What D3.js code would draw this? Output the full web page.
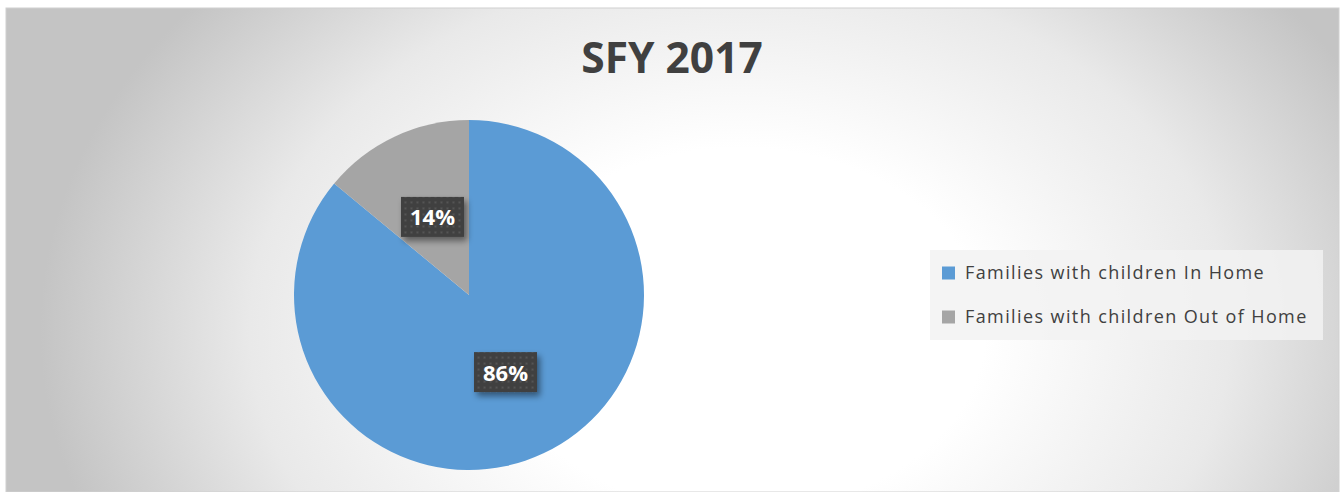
<!DOCTYPE html>
<html>
<head>
<meta charset="utf-8">
<script src="https://cdn.jsdelivr.net/npm/d3@7"></script>
<style>
  html, body { margin: 0; padding: 0; background: #fff; }
  svg { display: block; }
  text { font-family: "Open Sans", "Noto Sans", sans-serif; }
</style>
</head>
<body>
<svg id="chart" width="1341" height="492"></svg>
<script>
'use strict';

const title = 'SFY 2017';
const categories = ['Families with children In Home', 'Families with children Out of Home'];
const values = [86, 14];
const colors = ['#5B9BD5', '#A5A5A5'];

const frame = {x: 6, y: 8, w: 1333, h: 484};
const center = {x: 469, y: 295};
const radius = 175;

const svg = d3.select('#chart');
const defs = svg.append('defs');

// background: soft elliptical white glow, gray at the edges
const bg = defs.append('radialGradient')
	.attr('id', 'bgGrad')
	.attr('gradientUnits', 'userSpaceOnUse')
	.attr('cx', 0).attr('cy', 0).attr('r', 1)
	.attr('gradientTransform', 'translate(740,330) scale(700,520)');
[[0, '#ffffff'], [0.35, '#ffffff'], [0.7, '#e9e9e9'], [1, '#c4c4c4']].forEach(s => {
	bg.append('stop').attr('offset', s[0]).attr('stop-color', s[1]);
});

// dotted label fill
const pat = defs.append('pattern')
	.attr('id', 'dots')
	.attr('patternUnits', 'userSpaceOnUse')
	.attr('width', 6).attr('height', 6);
pat.append('rect').attr('width', 6).attr('height', 6).attr('fill', '#404040');
pat.append('rect').attr('x', 2).attr('y', 2).attr('width', 2).attr('height', 2).attr('fill', '#555555');

const shadow = defs.append('filter').attr('id', 'shadow')
	.attr('x', '-30%').attr('y', '-30%').attr('width', '160%').attr('height', '170%');
shadow.append('feDropShadow')
	.attr('dx', 3).attr('dy', 4).attr('stdDeviation', 3)
	.attr('flood-color', '#000').attr('flood-opacity', 0.45);

svg.append('rect')
	.attr('x', frame.x).attr('y', frame.y)
	.attr('width', frame.w).attr('height', frame.h)
	.attr('fill', 'url(#bgGrad)')
	.attr('stroke', '#d0d0d0').attr('stroke-width', 1);

svg.append('text')
	.attr('x', 672).attr('y', 73)
	.attr('text-anchor', 'middle')
	.attr('font-size', 42.5).attr('font-weight', 700)
	.attr('fill', '#404040')
	.text(title);

// pie
const data = categories.map((c, i) => ({cat: c, value: values[i], color: colors[i]}));
const pie = d3.pie().sort(null).value(d => d.value);
const arcs = pie(data);
const arc = d3.arc().innerRadius(0).outerRadius(radius);
const labelArc = d3.arc().innerRadius(radius * 0.49).outerRadius(radius * 0.49);

const g = svg.append('g').attr('transform', `translate(${center.x},${center.y})`);
g.selectAll('path')
	.data(arcs)
	.join('path')
		.attr('d', arc)
		.attr('fill', d => d.data.color);

const total = d3.sum(values);
const labels = g.selectAll('g.lbl')
	.data(arcs)
	.join('g')
		.attr('class', 'lbl')
		.attr('transform', d => 'translate(' + labelArc.centroid(d) + ')');

labels.append('rect')
	.attr('x', -31.5).attr('y', -20.5)
	.attr('width', 63).attr('height', 40)
	.attr('fill', 'url(#dots)')
	.attr('filter', 'url(#shadow)');

labels.append('text')
	.attr('text-anchor', 'middle')
	.attr('dy', '0.36em')
	.attr('font-size', 22).attr('font-weight', 700)
	.attr('fill', '#ffffff')
	.text(d => Math.round(d.data.value / total * 100) + '%');

// legend
const legend = svg.append('g').attr('transform', 'translate(930,250)');
legend.append('rect')
	.attr('width', 393).attr('height', 90)
	.attr('fill', '#f2f2f2').attr('fill-opacity', 0.85);

const rowY = d3.scalePoint().domain(categories).range([23, 67]);
const item = legend.selectAll('g.item')
	.data(data)
	.join('g')
		.attr('class', 'item')
		.attr('transform', d => `translate(12,${rowY(d.cat)})`);
item.append('rect')
	.attr('x', 0).attr('y', -6.5)
	.attr('width', 13).attr('height', 13)
	.attr('fill', d => d.color);
item.append('text')
	.attr('x', 23).attr('dy', '0.35em')
	.attr('font-size', 18)
	.attr('letter-spacing', 1.4)
	.attr('fill', '#404040')
	.text(d => d.cat);
</script>
</body>
</html>
